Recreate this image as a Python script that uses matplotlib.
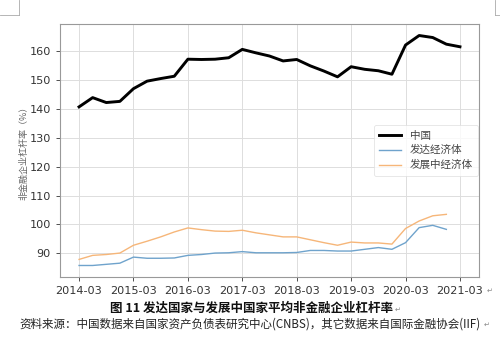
import matplotlib
matplotlib.use("Agg")
import matplotlib.pyplot as plt
from matplotlib.lines import Line2D

plt.rcParams['font.family'] = ['Noto Sans CJK SC', 'DejaVu Sans']

tick_labels = ["2014-03", "2015-03", "2016-03", "2017-03", "2018-03",
               "2019-03", "2020-03", "2021-03"]

china = [140.7, 143.9, 142.2, 142.6, 147.0, 149.6, 150.5, 151.3,
         157.2, 157.1, 157.2, 157.7, 160.6, 159.4, 158.3, 156.6,
         157.1, 154.9, 153.1, 151.1, 154.6, 153.7, 153.2, 152.0,
         162.1, 165.4, 164.7, 162.4, 161.5]
developed = [85.8, 85.8, 86.2, 86.6, 88.7, 88.3, 88.3, 88.4,
             89.3, 89.6, 90.1, 90.2, 90.6, 90.2, 90.2, 90.2,
             90.3, 91.0, 91.0, 90.8, 90.8, 91.4, 92.0, 91.4,
             93.7, 98.9, 99.7, 98.3]
developing = [87.9, 89.3, 89.6, 90.1, 92.8, 94.2, 95.7, 97.4,
              98.8, 98.2, 97.7, 97.6, 98.0, 97.1, 96.4, 95.7,
              95.7, 94.7, 93.7, 92.8, 93.9, 93.6, 93.6, 93.2,
              98.6, 101.2, 103.0, 103.5]

series_names = ["中国", "发达经济体", "发展中经济体"]

fig = plt.figure(figsize=(5.0, 3.6), dpi=100)
ax = fig.add_axes([0.12, 0.2306, 0.838, 0.7027])

ax.plot(range(len(china)), china, color="black", lw=2.1, label=series_names[0])
ax.plot(range(len(developed)), developed, color="#6fa3cc", lw=1.0, label=series_names[1])
ax.plot(range(len(developing)), developing, color="#f6b679", lw=1.0, label=series_names[2])

ax.set_xticks(range(0, 4 * len(tick_labels), 4))
ax.set_xticklabels(tick_labels)
ax.set_yticks([90, 100, 110, 120, 130, 140, 150, 160])
ax.tick_params(labelsize=8.1, colors="#333333", length=3, width=0.6)
for lab in ax.get_xticklabels() + ax.get_yticklabels():
    lab.set_family("DejaVu Sans")
ax.grid(True, color="#dddddd", lw=0.7)
for s in ax.spines.values():
    s.set_color("#999999")
    s.set_linewidth(0.8)

ax.set_ylabel("非金融企业杠杆率（%）", fontsize=6.5, color="#666666")
ax.yaxis.set_label_coords(-0.075, 0.5)

leg = ax.legend(loc="center right", fontsize=7.6, frameon=True, handlelength=2.1,
                borderpad=0.5, labelspacing=0.45, borderaxespad=0.1)
leg.get_frame().set_edgecolor("#dddddd")
leg.get_frame().set_linewidth(0.6)
for t in leg.get_texts():
    t.set_color("#444444")

fig.text(0.502, 0.144, "图 11 发达国家与发展中国家平均非金融企业杠杆率", ha="center", va="center",
         fontsize=9, weight="bold", color="#111111")
fig.text(0.79, 0.140, "↵", ha="left", va="center", fontsize=5, color="#888888",
         family=["DejaVu Sans"])
fig.text(0.038, 0.10, "资料来源：中国数据来自国家资产负债表研究中心(CNBS)，其它数据来自国际金融协会(IIF)",
         ha="left", va="center", fontsize=8.3, color="#222222")
fig.text(0.968, 0.098, "↵", ha="left", va="center", fontsize=5, color="#888888",
         family=["DejaVu Sans"])
fig.text(0.974, 0.192, "↵", ha="left", va="center", fontsize=5, color="#888888",
         family=["DejaVu Sans"])

# document corner marks
fig.add_artist(Line2D([0.038, 0.038], [1.0, 0.958], transform=fig.transFigure, color="#aaaaaa", lw=0.6))
fig.add_artist(Line2D([0.0, 0.038], [0.958, 0.958], transform=fig.transFigure, color="#aaaaaa", lw=0.6))
fig.add_artist(Line2D([0.99, 0.99], [1.0, 0.958], transform=fig.transFigure, color="#aaaaaa", lw=0.6))
fig.add_artist(Line2D([0.99, 1.0], [0.958, 0.958], transform=fig.transFigure, color="#aaaaaa", lw=0.6))

fig.savefig("out.png", dpi=100)
